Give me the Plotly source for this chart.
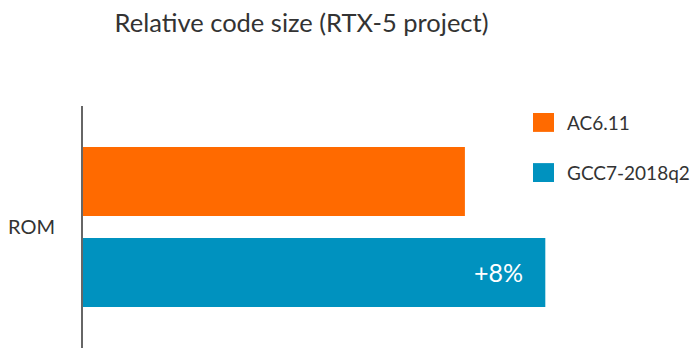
import plotly.graph_objects as go

categories = ["ROM"]
series_names = ["AC6.11", "GCC7-2018q2"]
ac_values = [1.00]
gcc_values = [1.08]
colors = {"AC6.11": "#FF6A00", "GCC7-2018q2": "#0092BF"}

FONT = "Lato, 'Open Sans', sans-serif"
TEXT = "#333333"

rel = ["+{:.0f}%".format((g / a - 1) * 100) for g, a in zip(gcc_values, ac_values)]

fig = go.Figure()
# horizontal grouped bars: first trace drawn lowest
fig.add_trace(go.Bar(
    y=categories, x=gcc_values, orientation="h", name=series_names[1],
    marker=dict(color=colors[series_names[1]], line=dict(width=0)),
    text=[t + "\u00a0" * 3 for t in rel], textposition="inside",
    insidetextanchor="end", textfont=dict(family=FONT, size=25, color="white"),
    showlegend=False, hoverinfo="skip",
))
fig.add_trace(go.Bar(
    y=categories, x=ac_values, orientation="h", name=series_names[0],
    marker=dict(color=colors[series_names[0]], line=dict(width=0)),
    showlegend=False, hoverinfo="skip",
))

# custom legend (large square swatches)
legend_rows = [(series_names[0], 0.971, 0.893), (series_names[1], 0.764, 0.686)]
shapes = []
annotations = []
for name, top, bot in legend_rows:
    shapes.append(dict(type="rect", xref="paper", yref="paper",
                       x0=0.90, x1=0.942, y0=bot, y1=top,
                       fillcolor=colors[name], line=dict(width=0)))
    annotations.append(dict(xref="paper", yref="paper", x=0.963, y=(top + bot) / 2,
                            text=name, showarrow=False, xanchor="left", yanchor="middle",
                            font=dict(family=FONT, size=19, color=TEXT)))

fig.update_layout(
    width=698, height=355,
    margin=dict(l=83, r=115, t=106, b=7, autoexpand=False),
    paper_bgcolor="white", plot_bgcolor="white",
    barmode="group", bargap=0.248, bargroupgap=0.242,
    title=dict(text="Relative code size (RTX-5 project)", x=0.432, xanchor="center",
               y=0.935, yanchor="middle", xref="container", yref="container",
               font=dict(family=FONT, size=25.5, color=TEXT)),
    xaxis=dict(range=[0.62, 1.1175], visible=False, fixedrange=True),
    yaxis=dict(showline=True, linecolor="#666666", linewidth=2, showgrid=False,
               zeroline=False, ticks="outside", ticklen=22, tickcolor="rgba(0,0,0,0)",
               automargin=False, fixedrange=True,
               tickfont=dict(family=FONT, size=20, color=TEXT)),
    shapes=shapes, annotations=annotations,
    uniformtext=dict(minsize=10, mode="show"),
)

fig.write_html("out.html", config={"displayModeBar": False, "staticPlot": True},
               post_script="document.body.style.margin='0';")
